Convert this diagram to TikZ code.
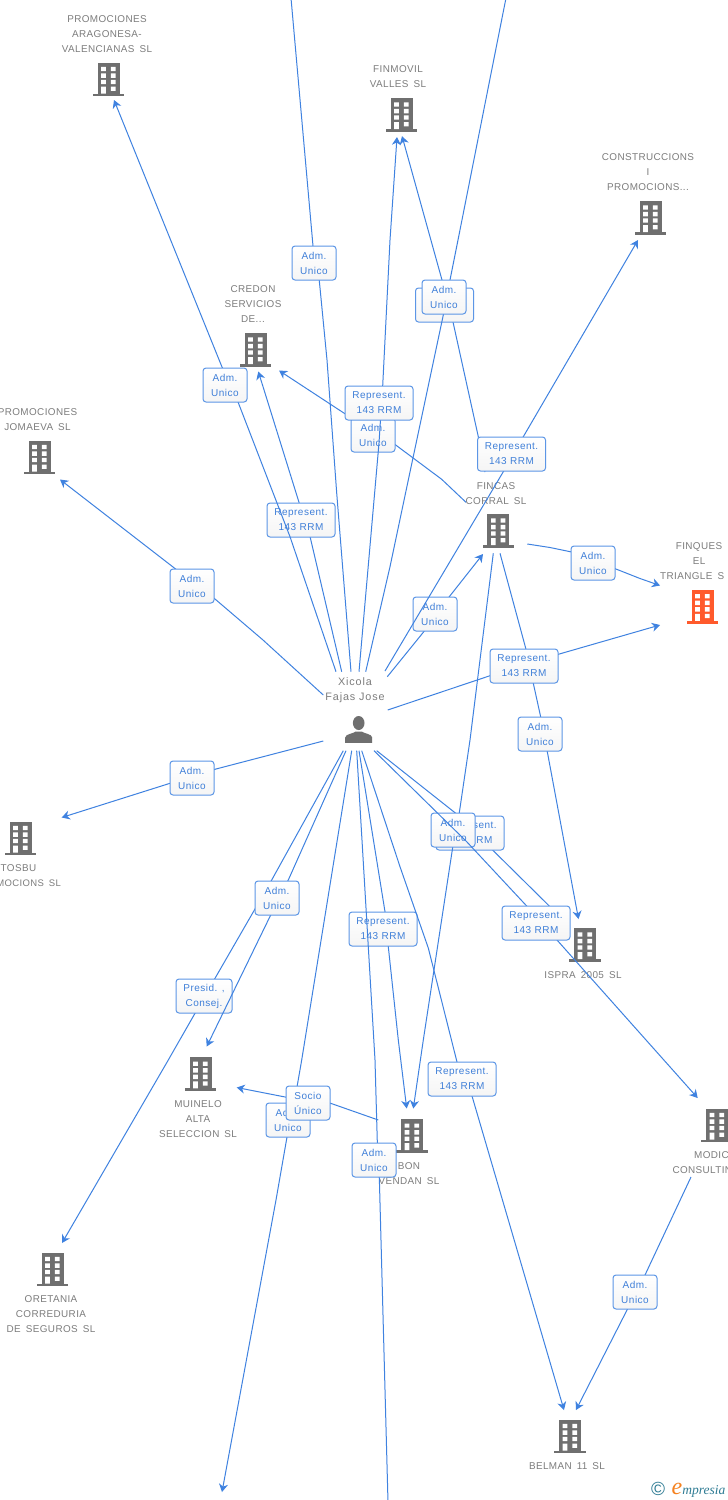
\documentclass[tikz,border=0pt]{standalone}
\usepackage{fontspec}
\setmainfont{Liberation Sans}
\newfontfamily\lblfont[LetterSpace=5]{Liberation Sans}
\newfontfamily\namefont[LetterSpace=4,WordSpace=1.6]{Liberation Sans}
\newfontfamily\personfont[LetterSpace=8]{Liberation Sans}
\newfontfamily\logofont{Liberation Serif}
\usetikzlibrary{arrows.meta}
\definecolor{linkblue}{HTML}{3F82E0}
\definecolor{boxblue}{HTML}{5C96E6}
\definecolor{txtblue}{HTML}{3F7FD8}
\definecolor{txtgrey}{HTML}{7D7D7D}
\definecolor{icongrey}{HTML}{6F6F6F}
\definecolor{iconorange}{HTML}{FF5A2C}
\definecolor{logoteal}{HTML}{2F7C94}
\definecolor{logoorange}{HTML}{F58220}
\tikzset{
  x=1pt,y=-1pt,
  lab/.style={draw=boxblue,line width=1pt,top color=white,bottom color=white!96!black,rounded corners=3pt,
    minimum height=34pt,inner sep=0pt,align=center,text=txtblue,
    font=\lblfont\fontsize{10}{15}\selectfont},
  adm/.style={lab,minimum width=44pt},
  rep/.style={lab,minimum width=68pt},
  pre/.style={lab,minimum width=56pt},
  nametext/.style={align=center,inner sep=0pt,text=txtgrey,font=\namefont\fontsize{9.9}{15}\selectfont},
  conn/.style={draw=linkblue,line width=1pt,line join=round},
  arr/.style={conn,-{Stealth[length=8pt,width=9pt,inset=2.5pt]}},
  bld/.pic={
    \fill[pic actions] (-11,-15.5) rectangle (11,15.5);
    \fill[pic actions] (-15.6,15.5) rectangle (15.6,18.2);
    \fill[white] (-7.3,-11.2) rectangle (-2.7,-7.0) (2.3,-11.2) rectangle (7,-7.0)
      (-7.3,-4.6) rectangle (-2.7,-0.2) (2.3,-4.6) rectangle (7,-0.2)
      (-7.3,1.8) rectangle (-2.7,6.2) (2.3,1.8) rectangle (7,6.2)
      (-7.3,8.5) rectangle (-2.7,15.5) (2.3,8.5) rectangle (7,12.8);
  },
  personicon/.pic={
    \fill[icongrey] (0,-7.5) circle[x radius=5.8,y radius=7];
    \fill[icongrey] (-13.5,12.3) -- (-13.5,7) .. controls (-13.5,3.5) and (-5,3) .. (-3,1)
      -- (3,1) .. controls (5,3) and (13.5,3.5) .. (13.5,7) -- (13.5,12.3) -- cycle;
  }
}
\begin{document}
\begin{tikzpicture}
\useasboundingbox (0,0) rectangle (728,1500);
\fill[white] (0,0) rectangle (728,1500);
\clip (0,0) rectangle (728,1500);

% buildings
\pic[fill=icongrey] at (108.5,78) {bld};
\pic[fill=icongrey] at (401.5,113.5) {bld};
\pic[fill=icongrey] at (650.5,216.5) {bld};
\pic[fill=icongrey] at (255.5,348.5) {bld};
\pic[fill=icongrey] at (39.5,456) {bld};
\pic[fill=icongrey] at (498.3,529.5) {bld};
\pic[fill=iconorange] at (702.5,605.3) {bld};
\pic[fill=icongrey] at (20.5,837) {bld};
\pic[fill=icongrey] at (585,943.5) {bld};
\pic[fill=icongrey] at (717,1124) {bld};
\pic[fill=icongrey] at (200.5,1072.8) {bld};
\pic[fill=icongrey] at (412,1134.7) {bld};
\pic[fill=icongrey] at (52.5,1268) {bld};
\pic[fill=icongrey] at (570,1435) {bld};
\pic at (358.7,730.5) {personicon};

% names
\node[nametext] (nArag) at (107,34) {PROMOCIONES\\ARAGONESA-\\VALENCIANAS SL};
\node[nametext] (nFinm) at (398,76.5) {FINMOVIL\\VALLES SL};
\node[nametext] (nCons) at (648,172) {CONSTRUCCIONS\\I\\PROMOCIONS...};
\node[nametext] (nCred) at (253,304) {CREDON\\SERVICIOS\\DE...};
\node[nametext] (nJoma) at (37.5,419.5) {PROMOCIONES\\JOMAEVA SL};
\node[nametext] (nFinc) at (496,493.5) {FINCAS\\CORRAL SL};
\node[nametext] (nTri1) at (699,553.5) {FINQUES\\EL};
\node[nametext,anchor=west] (nTri2) at (660,576) {TRIANGLE S};
\node[nametext,anchor=west] (nTos1) at (0.5,868) {TOSBU};
\node[nametext,anchor=east,font=\namefont\fontsize{9.5}{15}\selectfont] (nTos2) at (61,883) {MOCIONS SL};
\node[nametext] (nIspr) at (583,975) {ISPRA 2005 SL};
\node[nametext,anchor=west] (nMod1) at (694,1155) {MODIC};
\node[nametext,anchor=west] (nMod2) at (672.3,1170) {CONSULTIN};
\node[nametext] (nMuin) at (198,1119) {MUINELO\\ALTA\\SELECCION SL};
\node[nametext] (nBon) at (409,1173.5) {BON\\VENDAN SL};
\node[nametext] (nOret) at (51,1314) {ORETANIA\\CORREDURIA\\DE SEGUROS SL};
\node[nametext] (nBelm) at (567,1466) {BELMAN 11 SL};
\node[nametext,font=\personfont\fontsize{10.8}{15}\selectfont] (nXico) at (355,690.5) {Xicola\\Fajas Jose};

% label positions
\coordinate (c01) at (314,263);
\coordinate (c02) at (225,385);
\coordinate (c03) at (301,520);
\coordinate (c04) at (373,435);
\coordinate (c05) at (379,403);
\coordinate (c06) at (444.5,305);
\coordinate (c07) at (444,297);
\coordinate (c08) at (511.5,454);
\coordinate (c09) at (435,614);
\coordinate (c10) at (593,563);
\coordinate (c11) at (524,666);
\coordinate (c12) at (540,734);
\coordinate (c13) at (470,833);
\coordinate (c14) at (453,830);
\coordinate (c15) at (536,923);
\coordinate (c16) at (383,929);
\coordinate (c17) at (374,1160);
\coordinate (c18) at (288,1120);
\coordinate (c19) at (308,1103);
\coordinate (c20) at (462,1079);
\coordinate (c21) at (277,898);
\coordinate (c22) at (204,996);
\coordinate (c23) at (192,778);
\coordinate (c24) at (192,586);
\coordinate (c25) at (635,1292);

% free ends
\coordinate (s01) at (351,671.7); \coordinate (e01) at (291,-2);
\coordinate (s02) at (336,671.7); \coordinate (e02) at (114,100);
\coordinate (s03) at (341.7,671.7); \coordinate (e03) at (258.3,371.5);
\coordinate (s04) at (466,502.3); \coordinate (e04) at (279,370.5);
\coordinate (s05) at (359,671.7); \coordinate (e05) at (397,137);
\coordinate (s06) at (485,472); \coordinate (e06) at (402,136);
\coordinate (s07) at (365.7,671.7); \coordinate (e07) at (506,-2);
\coordinate (s08) at (385,671); \coordinate (e08) at (638,240);
\coordinate (s09) at (387.3,676.7); \coordinate (e09) at (483,554);
\coordinate (s10) at (527.3,544); \coordinate (e10) at (660,585.5);
\coordinate (s11) at (387.7,710); \coordinate (e11) at (660,625);
\coordinate (s12) at (500,553.3); \coordinate (e12) at (578.5,919);
\coordinate (s13) at (376.7,750.7);
\coordinate (s14) at (493.3,553.3); \coordinate (e14) at (413.3,1108.5);
\coordinate (s15) at (374,750.7); \coordinate (e15) at (697.7,1098);
\coordinate (s16) at (359,750.7); \coordinate (e16) at (406.7,1108.5);
\coordinate (s17) at (356.7,750.7); \coordinate (e17) at (388,1502);
\coordinate (s18) at (351.7,750.7); \coordinate (e18) at (222,1492);
\coordinate (s19) at (378.3,1120); \coordinate (e19) at (236.7,1087.5);
\coordinate (s20) at (361.7,750.7); \coordinate (e20) at (564,1410);
\coordinate (s21) at (346,750.7); \coordinate (e21) at (206.7,1046.5);
\coordinate (s22) at (343.3,750.7); \coordinate (e22) at (62,1243);
\coordinate (s23) at (323.3,741); \coordinate (e23) at (61.7,817.5);
\coordinate (s24) at (323.3,695); \coordinate (e24) at (60,479.5);
\coordinate (s25) at (691,1177); \coordinate (e25) at (576,1410);

% connectors and labels, in drawing order
\draw[conn] (s01) -- (336.7,493) -- (327,360) -- (319.3,280.7) -- (313,246) -- (e01);
\node[adm] (L01) at (c01) {Adm.\\Unico};
\draw[arr] (s03) -- (310.3,537.7) -- (299.3,503.3) -- (e03);
\node[rep] (L03) at (c03) {Represent.\\143 RRM};
\draw[arr] (s02) -- (290,536.7) -- (238.3,402.7) -- (222,367) -- (e02);
\node[adm] (L02) at (c02) {Adm.\\Unico};
\draw[arr] (s04) -- (441.7,479.3) -- (395.7,445) -- (344.3,413.3) -- (e04);
\node[adm] (L04) at (c04) {Adm.\\Unico};
\draw[arr] (s05) -- (379,443) -- (382.7,385.7) -- (390,240) -- (e05);
\node[rep] (L05) at (c05) {Represent.\\143 RRM};
\draw[arr] (s06) -- (478.3,436.7) -- (453,322) -- (442,280) -- (e06);
\node[adm,minimum width=58pt] (L06) at (c06) {};
\draw[conn] (s07) -- (390,566.7) -- (408.3,480) -- (443.3,315) -- (450,280) -- (458,240) -- (e07);
\node[adm] (L07) at (c07) {Adm.\\Unico};
\draw[arr] (s09) -- (423.3,632.3) -- (449.3,596.7) -- (e09);
\node[adm] (L09) at (c09) {Adm.\\Unico};
\draw[arr] (s08) -- (503.3,471.7) -- (523.3,436.7) -- (e08);
\node[rep] (L08) at (c08) {Represent.\\143 RRM};
\draw[arr] (s10) -- (550,547.5) -- (571.7,552) -- (616.7,569.3) -- (640,578.5) -- (e10);
\node[adm] (L10) at (c10) {Adm.\\Unico};
\draw[arr] (s12) -- (526,649.3) -- (533.3,683.3) -- (540.7,717) -- (547.3,751.7) -- (e12);
\node[adm] (L12) at (c12) {Adm.\\Unico};
\draw[arr] (s11) -- (490,675.7) -- (559.3,654) -- (e11);
\node[rep] (L11) at (c11) {Represent.\\143 RRM};
\draw[conn] (s13) -- (455,812.7) -- (493.3,850.7) -- (550,906.7) -- (c15);
\node[rep] (L13) at (c13) {Represent.\\143 RRM};
\draw[arr] (s14) -- (470,740) -- (459.3,812.7) -- (452.7,847.3) -- (423.3,1040) -- (e14);
\node[adm] (L14) at (c14) {Adm.\\Unico};
\draw[arr] (s15) -- (466.7,841.7) -- (526.7,906) -- (557,940) -- (e15);
\node[rep] (L15) at (c15) {Represent.\\143 RRM};
\draw[arr] (s16) -- (385,911.7) -- (388.3,946.7) -- (398.3,1040) -- (e16);
\node[rep] (L16) at (c16) {Represent.\\143 RRM};
\draw[arr] (s18) -- (301.7,1060) -- (297,1087) -- (287,1137) -- (276,1200) -- (e18);
\node[adm] (L18) at (c18) {Adm.\\Unico};
\draw[arr] (s19) -- (330.7,1103.3) -- (286.7,1097.3) -- (e19);
\node[adm] (L19) at (c19) {Socio\\Único};
\draw[conn] (s17) -- (375,1060) -- (377.3,1141.7) -- (379.3,1176.7) -- (e17);
\node[adm] (L17) at (c17) {Adm.\\Unico};
\draw[arr] (s20) -- (400,866.7) -- (428.3,948) -- (457,1062) -- (472,1096) -- (e20);
\node[rep] (L20) at (c20) {Represent.\\143 RRM};
\draw[arr] (s22) -- (271.7,880) -- (215,978.3) -- (195,1013.3) -- (168.3,1060) -- (e22);
\node[pre] (L22) at (c22) {Presid. ,\\Consej.};
\draw[arr] (s21) -- (288.3,880) -- (270.7,915) -- (e21);
\node[adm] (L21) at (c21) {Adm.\\Unico};
\draw[arr] (s23) -- (216,769) -- (170,783.3) -- (e23);
\node[adm] (L23) at (c23) {Adm.\\Unico};
\draw[arr] (s24) -- (263,640) -- (215,599) -- (176,569.3) -- (e24);
\node[adm] (L24) at (c24) {Adm.\\Unico};
\draw[arr] (s25) -- (645,1275) -- (627,1310) -- (e25);
\node[adm] (L25) at (c25) {Adm.\\Unico};

% logo
\node[inner sep=0pt,text=logoteal,font=\fontsize{19}{19}\selectfont] (logoC) at (658,1489) {©};
\node[inner sep=0pt,anchor=base west,font=\logofont\itshape] (logoE) at (671.5,1494)
  {\textcolor{logoorange}{\fontsize{24}{24}\selectfont e}\textcolor{logoteal}{\fontsize{13.5}{13.5}\selectfont mpresia}};
\end{tikzpicture}
\end{document}
